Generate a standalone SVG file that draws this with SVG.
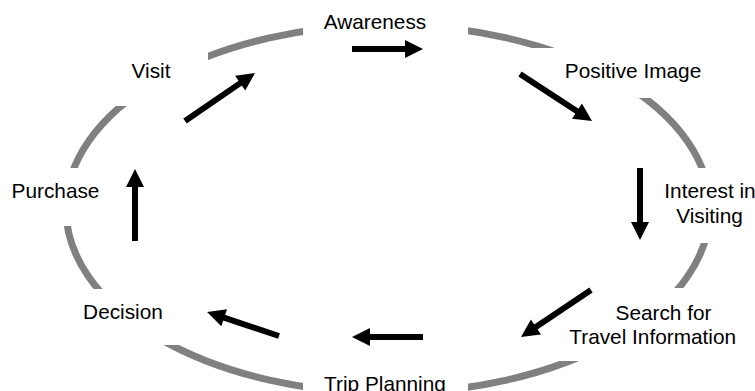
<svg xmlns="http://www.w3.org/2000/svg" width="755" height="391" viewBox="0 0 755 391">
  <style>
    .ring { fill: none; stroke: #808080; stroke-width: 7; }
    .box { fill: #ffffff; stroke: none; }
    .label { font-family: "Liberation Sans", Arial, sans-serif; font-size: 20.8px; fill: #000000; text-anchor: middle; }
    .arrow { fill: none; stroke: #000000; stroke-width: 6; marker-end: url(#head); }
  </style>
  <defs>
    <marker id="head" markerUnits="userSpaceOnUse" viewBox="0 -10 20 20" markerWidth="20" markerHeight="20" refX="1" refY="0" orient="auto" overflow="visible">
      <path d="M0,-9 L18,0 L0,9 Z" fill="#000000"/>
    </marker>
  </defs>

  <rect width="755" height="391" fill="#ffffff"/>

  <!-- the cycle ring; label boxes sit over it and break it into arcs -->
  <ellipse class="ring" cx="388" cy="209" rx="322" ry="184"/>

  <g id="awareness">
    <rect class="box" x="303" y="0" width="165" height="40"/>
    <text class="label" x="375" y="29">Awareness</text>
  </g>
  <g id="positive-image">
    <rect class="box" x="525" y="48" width="195" height="50"/>
    <text class="label" x="633" y="78">Positive Image</text>
  </g>
  <g id="interest-in-visiting">
    <rect class="box" x="652" y="168" width="103" height="75"/>
    <text class="label" x="710" y="198">Interest in</text>
    <text class="label" x="709.5" y="222.5">Visiting</text>
  </g>
  <g id="search-for-travel-information">
    <rect class="box" x="545" y="288" width="200" height="73"/>
    <text class="label" x="663.5" y="319.5">Search for</text>
    <text class="label" x="652.7" y="343.5">Travel Information</text>
  </g>
  <g id="trip-planning">
    <rect class="box" x="303" y="370" width="165" height="21"/>
    <text class="label" x="385" y="390.5">Trip Planning</text>
  </g>
  <g id="decision">
    <rect class="box" x="60" y="289" width="143" height="56"/>
    <text class="label" x="123" y="319">Decision</text>
  </g>
  <g id="purchase">
    <rect class="box" x="0" y="168" width="118" height="58"/>
    <text class="label" x="55.5" y="197.5">Purchase</text>
  </g>
  <g id="visit">
    <rect class="box" x="95" y="40" width="113" height="66"/>
    <text class="label" x="151" y="78">Visit</text>
  </g>

  <g id="connectors">
    <path class="arrow" d="M352,49 L406,49"/>
    <path class="arrow" d="M520,74 L577.8,111.7"/>
    <path class="arrow" d="M640,168 L640,223"/>
    <path class="arrow" d="M591,290 L535.1,327.5"/>
    <path class="arrow" d="M423,337 L369,337"/>
    <path class="arrow" d="M279,336 L223.2,317.4"/>
    <path class="arrow" d="M135,241 L135,186"/>
    <path class="arrow" d="M185,121 L241,82.6"/>
  </g>
</svg>
